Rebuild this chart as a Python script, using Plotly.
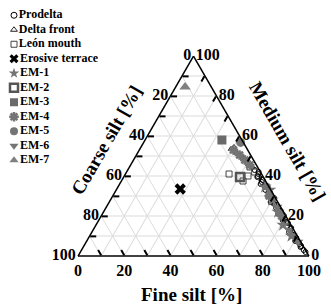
import plotly.graph_objects as go

W, H = 331, 304

# ---------------- data (percent) ----------------
prodelta_medium = [43, 41, 39.5, 38, 36, 34.5, 33, 31.5, 30, 28.5, 27, 25.5, 24, 22.5, 21, 19.5, 18, 16.5, 15, 13.5, 12, 10.5, 9, 7.5, 6, 4.5, 3,
                   42, 40, 37, 35, 32, 29, 26, 23, 20, 17, 14, 11, 8, 5, 2]
prodelta_coarse = [2.0, 1.4, 2.6, 1.1, 2.9, 1.7, 2.3, 1.0, 2.7, 1.8, 3.1, 1.3, 2.2, 1.0, 2.8, 1.6, 2.4, 0.9, 2.0, 1.3, 2.6, 1.5, 1.0, 2.2, 1.1, 1.4, 0.8,
                   0.8, 2.2, 1.9, 0.7, 1.5, 0.6, 2.0, 1.7, 0.8, 1.4, 0.7, 2.0, 1.6, 0.9, 0.5]
prodelta_fine = [55.0, 57.6, 57.9, 60.9, 61.1, 63.8, 64.7, 67.5, 67.3, 69.7, 69.9, 73.2, 73.8, 76.5, 76.2, 78.9, 79.6, 82.6, 83.0, 85.2, 85.4, 88.0, 90.0, 90.3, 92.9, 94.1, 96.2,
                 57.2, 57.8, 61.1, 64.3, 66.5, 70.4, 72.0, 75.3, 79.2, 81.6, 85.3, 87.0, 90.4, 94.1, 97.5]

delta_medium = [54.5, 53.5, 52.5, 51.5, 49, 47.5, 46, 44.5, 35, 26, 17]
delta_coarse = [5.2, 7.0, 5.8, 5.4, 4.1, 3.5, 2.8, 2.2, 1.5, 1.9, 1.2]
delta_fine = [40.3, 39.5, 41.7, 43.1, 46.9, 49.0, 51.2, 53.3, 63.5, 72.1, 81.8]

leon_medium = [41, 40, 37.5, 44.5, 42]
leon_coarse = [14.1, 6.4, 9.8, 3.3, 2.5]
leon_fine = [44.9, 53.6, 52.7, 52.2, 55.5]

erosive_medium = [33.5]
erosive_coarse = [39]
erosive_fine = [27.5]

em1_medium = [34.5, 33, 22, 15.5, 28, 10]
em1_coarse = [1.8, 0.5, 2.4, 3.5, 2.0, 2.6]
em1_fine = [63.7, 66.5, 75.6, 81.0, 70.0, 87.4]

em2_medium = [39.5]
em2_coarse = [10.1]
em2_fine = [50.4]

em3_medium = [58]
em3_coarse = [8.7]
em3_fine = [33.3]

em4_medium = [53, 50.5, 48, 45.5, 30, 20]
em4_coarse = [6.2, 4.8, 3.8, 2.9, 2.2, 1.8]
em4_fine = [40.8, 44.7, 48.2, 51.6, 67.8, 78.2]

em5_medium = [56.8]
em5_coarse = [1.2]
em5_fine = [42.0]

em6_medium = [24.5, 13, 7]
em6_coarse = [1.5, 2.0, 1.2]
em6_fine = [74.0, 85.0, 91.8]

em7_medium = [84.5]
em7_coarse = [11.4]
em7_fine = [4.1]

tick_values = [0, 10, 20, 30, 40, 50, 60, 70, 80, 90, 100]
tick_labels = ["100", "", "80", "", "60", "", "40", "", "20", "", "0"]

legend_labels = ["Prodelta", "Delta front", "León mouth", "Erosive terrace",
                 "EM-1", "EM-2", "EM-3", "EM-4", "EM-5", "EM-6", "EM-7"]

# ---------------- styles ----------------
GRAY = "#747474"
styles = [
    dict(symbol="circle-open", size=5, color="black", line=dict(width=1, color="black")),
    dict(symbol="triangle-up-open", size=5, color="#222", line=dict(width=1, color="#222")),
    dict(symbol="square-open", size=6, color="#444", line=dict(width=1, color="#444")),
    dict(symbol="x", size=10, color="black", line=dict(width=0)),
    dict(symbol="star", size=10, color=GRAY, line=dict(width=0)),
    dict(symbol="square-open", size=8, color="#555", line=dict(width=2.5, color="#555")),
    dict(symbol="square", size=9, color="#6a6a6a", line=dict(width=0)),
    dict(symbol="asterisk-open", size=8, color=GRAY, line=dict(width=2.5, color=GRAY)),
    dict(symbol="circle", size=9, color=GRAY, line=dict(width=0)),
    dict(symbol="triangle-down", size=9, color=GRAY, line=dict(width=0)),
    dict(symbol="triangle-up", size=10, color="#808080", line=dict(width=0)),
]

series = [
    (prodelta_medium, prodelta_coarse, prodelta_fine),
    (delta_medium, delta_coarse, delta_fine),
    (leon_medium, leon_coarse, leon_fine),
    (erosive_medium, erosive_coarse, erosive_fine),
    (em1_medium, em1_coarse, em1_fine),
    (em2_medium, em2_coarse, em2_fine),
    (em3_medium, em3_coarse, em3_fine),
    (em4_medium, em4_coarse, em4_fine),
    (em5_medium, em5_coarse, em5_fine),
    (em6_medium, em6_coarse, em6_fine),
    (em7_medium, em7_coarse, em7_fine),
]

FONT = "Liberation Serif"

fig = go.Figure()

# black sample markers first, gray end-member markers over the band
draw_order = [0, 1, 2, 4, 7, 9, 3, 5, 6, 8, 10]
for k in draw_order:
    (m, c, f), st, name = series[k], styles[k], legend_labels[k]
    fig.add_trace(go.Scatterternary(
        a=m, b=c, c=f, mode="markers", name=name, showlegend=False,
        marker=st, cliponaxis=False,
    ))

# manual legend (compact spacing, like the reference)
for i, (st, name) in enumerate(zip(styles, legend_labels)):
    fig.add_trace(go.Scatter(
        x=[0], y=[i], mode="markers+text", text=[name],
        textposition="middle right",
        textfont=dict(family=FONT, size=12, color="black", weight="bold"),
        marker=dict(st, size=max(6, min(st["size"], 8))), showlegend=False,
        cliponaxis=False, hoverinfo="skip",
    ))


def px_x(p):
    return p / W


def px_y(p):
    return 1 - p / H


axis_common = dict(
    tickmode="array", tickvals=tick_values, ticktext=tick_labels,
    ticks="inside", ticklen=6, tickwidth=1.5, tickcolor="black",
    showline=True, linecolor="black", linewidth=1.5,
    showgrid=True, gridcolor="#dcdcdc", gridwidth=0.8,
    tickfont=dict(family=FONT, size=16, color="black", weight="bold"),
    title=dict(text=""),
)

title_font = dict(family=FONT, size=19, color="black")

fig.update_layout(
    width=W, height=H,
    margin=dict(l=0, r=0, t=0, b=0),
    paper_bgcolor="white", plot_bgcolor="rgba(0,0,0,0)",
    showlegend=False,
    ternary=dict(
        sum=100,
        domain=dict(x=[px_x(78), px_x(309)], y=[px_y(256), px_y(56)]),
        bgcolor="white",
        aaxis=axis_common, baxis=axis_common, caxis=axis_common,
    ),
    xaxis=dict(domain=[0, 0.4], range=[-14, 0.4 * W - 14], visible=False, fixedrange=True),
    yaxis=dict(domain=[px_y(167.5), px_y(8)], range=[10.5, -0.5], visible=False, fixedrange=True),
    annotations=[
        dict(text="<b>Coarse silt [%]</b>", x=px_x(106), y=px_y(140), xref="paper", yref="paper",
             xanchor="center", yanchor="middle",
             showarrow=False, textangle=-60, font=title_font),
        dict(text="<b>Medium silt [%]</b>", x=px_x(288), y=px_y(141), xref="paper", yref="paper",
             xanchor="center", yanchor="middle",
             showarrow=False, textangle=60, font=title_font),
        dict(text="<b>Fine silt [%]</b>", x=px_x(191), y=px_y(294), xref="paper", yref="paper",
             xanchor="center", yanchor="middle",
             showarrow=False, font=title_font),
    ],
)

fig.write_html("out.html", config={"displayModeBar": False},
               post_script="document.body.style.margin='0px';")
